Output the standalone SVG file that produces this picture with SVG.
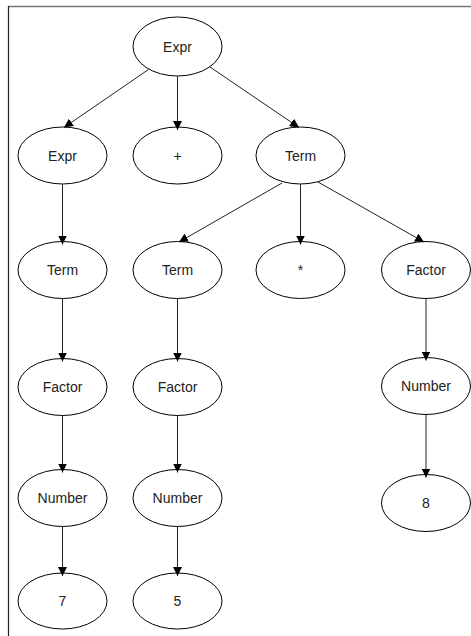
<svg xmlns="http://www.w3.org/2000/svg" width="471" height="636" viewBox="0 0 471 636">
<style>
.n ellipse{fill:#fff;stroke:#000;stroke-width:1}
.n text{font-family:"Liberation Sans",Arial,sans-serif;font-size:14px;fill:#222;text-anchor:middle;dominant-baseline:central}
.e line{stroke:#222;stroke-width:1;marker-end:url(#ah)}
</style>
<defs>
<marker id="ah" markerUnits="userSpaceOnUse" markerWidth="10" markerHeight="9" refX="9" refY="4.5" orient="auto">
<path d="M0,0 L9,4.5 L0,9 Z" fill="#000"/>
</marker>
</defs>
<line x1="8" y1="6.5" x2="471" y2="6.5" stroke="#777" stroke-width="1.5"/>
<line x1="8.5" y1="6" x2="8.5" y2="636" stroke="#222" stroke-width="1.2"/>
<g id="n_root" class="n"><ellipse cx="177.5" cy="46.5" rx="44.5" ry="29.5"/><text x="177.5" y="46.5">Expr</text></g>
<g id="n_expr" class="n"><ellipse cx="62.5" cy="155.5" rx="44.5" ry="28.5"/><text x="62.5" y="155.5">Expr</text></g>
<g id="n_plus" class="n"><ellipse cx="177.5" cy="155.5" rx="44.5" ry="28.5"/><text x="177.5" y="155.5">+</text></g>
<g id="n_term_r" class="n"><ellipse cx="300.5" cy="155.5" rx="44.5" ry="28.5"/><text x="300.5" y="155.5">Term</text></g>
<g id="n_term_l" class="n"><ellipse cx="62.5" cy="270" rx="44.5" ry="28.5"/><text x="62.5" y="270">Term</text></g>
<g id="n_term_m" class="n"><ellipse cx="177.5" cy="270" rx="44.5" ry="28.5"/><text x="177.5" y="270">Term</text></g>
<g id="n_star" class="n"><ellipse cx="300.5" cy="270" rx="44.5" ry="28.5"/><text x="300.5" y="270">*</text></g>
<g id="n_factor_r" class="n"><ellipse cx="426" cy="270" rx="44.5" ry="28.5"/><text x="426" y="270">Factor</text></g>
<g id="n_factor_l" class="n"><ellipse cx="62.5" cy="387" rx="44.5" ry="28.5"/><text x="62.5" y="387">Factor</text></g>
<g id="n_factor_m" class="n"><ellipse cx="177.5" cy="387" rx="44.5" ry="28.5"/><text x="177.5" y="387">Factor</text></g>
<g id="n_number_r" class="n"><ellipse cx="426" cy="386" rx="44.5" ry="28.5"/><text x="426" y="386">Number</text></g>
<g id="n_number_l" class="n"><ellipse cx="62.5" cy="498" rx="44.5" ry="28.5"/><text x="62.5" y="498">Number</text></g>
<g id="n_number_m" class="n"><ellipse cx="177.5" cy="498" rx="44.5" ry="28.5"/><text x="177.5" y="498">Number</text></g>
<g id="n_8" class="n"><ellipse cx="426" cy="503" rx="44.5" ry="28.5"/><text x="426" y="503">8</text></g>
<g id="n_7" class="n"><ellipse cx="62.5" cy="601" rx="44.5" ry="28"/><text x="62.5" y="601">7</text></g>
<g id="n_5" class="n"><ellipse cx="177.5" cy="601" rx="44.5" ry="28"/><text x="177.5" y="601">5</text></g>
<g id="connectors" class="e">
<line x1="148.5" y1="69.5" x2="64" y2="127.5"/>
<line x1="177.5" y1="76" x2="177.5" y2="130"/>
<line x1="210" y1="67" x2="299" y2="127.5"/>
<line x1="62.5" y1="184" x2="62.5" y2="244.5"/>
<line x1="282" y1="183" x2="179" y2="242"/>
<line x1="300.5" y1="184" x2="300.5" y2="244.5"/>
<line x1="318" y1="182" x2="424" y2="242"/>
<line x1="62.5" y1="298.5" x2="62.5" y2="361.5"/>
<line x1="177.5" y1="298.5" x2="177.5" y2="361.5"/>
<line x1="426" y1="298.5" x2="426" y2="360.5"/>
<line x1="62.5" y1="415.5" x2="62.5" y2="472.5"/>
<line x1="177.5" y1="415.5" x2="177.5" y2="472.5"/>
<line x1="426" y1="414.5" x2="426" y2="477.5"/>
<line x1="62.5" y1="526.5" x2="62.5" y2="576"/>
<line x1="177.5" y1="526.5" x2="177.5" y2="576"/>
</g>
</svg>
